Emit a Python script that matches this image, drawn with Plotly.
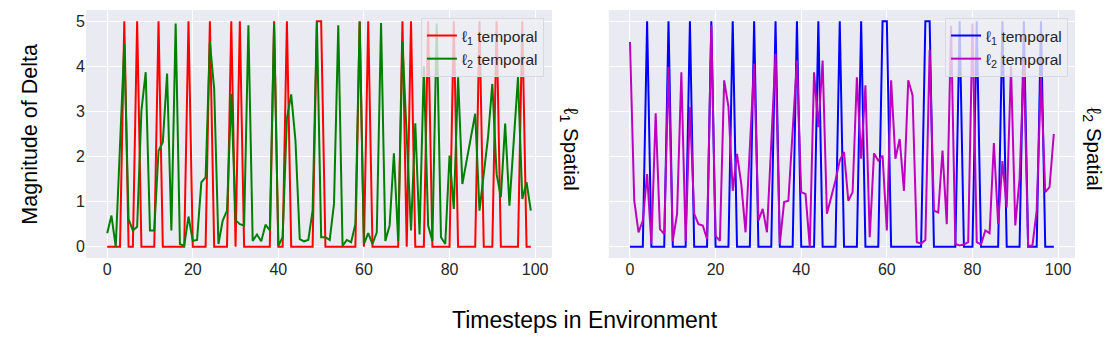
import plotly.graph_objects as go
from plotly.subplots import make_subplots

# =============================================================================
# data
# =============================================================================

steps = list(range(100))

# left panel: l1 spatial
l1s_l1t = [0, 0, 0, 0, 5, 0, 0, 5, 0, 0,
           0, 0, 5, 0, 0, 0, 0, 0, 0, 5,
           0, 0, 0, 0, 5, 0, 0, 0, 0, 5,
           0, 5, 0, 0, 0, 0, 0, 0, 0, 5,
           0, 0, 5, 0, 0, 0, 0, 0, 0, 5,
           5, 0, 0, 0, 0, 0, 0, 0, 0, 5,
           0, 5, 0, 0, 0, 0, 0, 0, 0, 5,
           0, 5, 0, 0, 0, 5, 0, 0, 0, 0,
           0, 5, 0, 0, 0, 0, 0, 5, 0, 0,
           0, 5, 0, 0, 0, 0, 0, 5, 0, 0]

l1s_l2t = [0.30, 0.69, 0.00, 2.25, 4.50, 0.61, 0.36, 0.44, 3.02, 3.87,
           0.36, 0.36, 2.13, 2.32, 3.84, 0.36, 4.95, 0.06, 0.02, 0.67,
           0.13, 0.15, 1.43, 1.54, 4.54, 3.50, 0.06, 0.58, 0.80, 3.39,
           0.59, 0.50, 0.47, 4.91, 0.13, 0.27, 0.12, 0.49, 0.36, 4.95,
           0.02, 0.21, 2.85, 3.38, 2.35, 0.17, 0.12, 0.15, 0.80, 4.99,
           0.21, 0.21, 0.15, 0.95, 4.91, 0.02, 0.15, 0.10, 0.50, 4.99,
           0.06, 0.30, 0.06, 0.32, 4.96, 0.13, 0.47, 2.07, 0.13, 4.54,
           2.50, 0.36, 2.74, 0.27, 4.00, 0.47, 0.13, 4.95, 0.21, 0.06,
           2.02, 0.84, 3.76, 1.39, 1.91, 2.43, 2.95, 0.80, 1.69, 2.43,
           3.61, 1.61, 1.10, 2.73, 0.91, 2.28, 3.76, 1.06, 1.43, 0.80]

# right panel: l2 spatial
l2s_l1t = [0, 0, 0, 0, 5, 0, 0, 0, 0, 5,
           0, 0, 0, 0, 5, 0, 0, 0, 0, 5,
           0, 0, 0, 0, 5, 0, 0, 0, 0, 5,
           0, 0, 0, 0, 5, 0, 0, 0, 0, 5,
           0, 0, 0, 0, 5, 0, 0, 0, 0, 5,
           0, 0, 0, 0, 5, 0, 0, 0, 0, 5,
           5, 0, 0, 0, 0, 0, 0, 0, 0, 5,
           5, 0, 0, 0, 0, 0, 0, 5, 0, 0,
           0, 5, 0, 0, 0, 0, 0, 5, 0, 0,
           0, 0, 5, 0, 0, 0, 5, 0, 0, 0]

l2s_l2t = [4.54, 1.02, 0.32, 0.58, 1.61, 0.06, 2.96, 0.39, 0.28, 3.99,
           0.13, 0.73, 3.87, 0.13, 3.10, 0.73, 0.50, 0.47, 0.17, 4.91,
           0.24, 0.13, 3.69, 3.10, 1.24, 2.06, 1.39, 0.32, 2.20, 4.06,
           0.58, 0.84, 0.32, 2.20, 4.28, 0.06, 0.99, 1.02, 2.60, 4.13,
           1.21, 1.17, 0.00, 3.87, 2.65, 4.13, 0.73, 1.10, 1.47, 1.91,
           2.10, 1.02, 1.21, 3.76, 1.95, 3.58, 0.21, 2.07, 1.91, 2.02,
           0.36, 3.69, 1.95, 2.39, 1.24, 3.69, 3.36, 0.10, 0.07, 0.15,
           4.36, 0.80, 0.76, 2.13, 0.50, 4.90, 0.06, 0.03, 0.05, 0.10,
           4.95, 0.10, 0.05, 0.36, 0.30, 2.30, 0.50, 1.90, 0.87, 4.00,
           0.47, 1.50, 4.10, 0.02, 0.02, 0.80, 3.76, 1.21, 1.32, 2.50]

y_ticks = [0, 1, 2, 3, 4, 5]
x_ticks = [0, 20, 40, 60, 80, 100]

# =============================================================================
# figure
# =============================================================================

fig = make_subplots(rows = 1, cols = 2, shared_yaxes = True, horizontal_spacing = 0.0574)

fig.add_trace(go.Scatter(x = steps, y = l1s_l1t, mode = 'lines', name = 'ℓ<sub>1</sub> temporal',
                         line = dict(color = '#ff0000', width = 2), legend = 'legend'), row = 1, col = 1)
fig.add_trace(go.Scatter(x = steps, y = l1s_l2t, mode = 'lines', name = 'ℓ<sub>2</sub> temporal',
                         line = dict(color = '#008000', width = 2), legend = 'legend'), row = 1, col = 1)
fig.add_trace(go.Scatter(x = steps, y = l2s_l1t, mode = 'lines', name = 'ℓ<sub>1</sub> temporal',
                         line = dict(color = '#0000ff', width = 2), legend = 'legend2'), row = 1, col = 2)
fig.add_trace(go.Scatter(x = steps, y = l2s_l2t, mode = 'lines', name = 'ℓ<sub>2</sub> temporal',
                         line = dict(color = '#bf00bf', width = 2), legend = 'legend2'), row = 1, col = 2)

axis_style = dict(showgrid = True, gridcolor = 'white', gridwidth = 1.3, zeroline = False,
                  showline = False, ticks = '', tickfont = dict(size = 16, color = '#262626'))

fig.update_xaxes(range = [-4.95, 103.95], tickvals = x_ticks, **axis_style)
fig.update_yaxes(range = [-0.25, 5.25], tickvals = y_ticks, **axis_style)
fig.update_xaxes(domain = [0, 0.4712], row = 1, col = 1)
fig.update_xaxes(domain = [0.5286, 1], row = 1, col = 2)
fig.update_yaxes(showticklabels = False, row = 1, col = 2)

legend_style = dict(bgcolor = 'rgba(238,238,244,0.8)', bordercolor = '#d8d8e0', borderwidth = 1,
                    font = dict(size = 15.5, color = '#262626'), xanchor = 'right', yanchor = 'top',
                    tracegroupgap = 0, itemwidth = 30)

# page body adds 8px, so the figure is a bit smaller than the window
fig.update_layout(
    width = 1108, height = 341,
    margin = dict(l = 78, r = 41, t = 2, b = 91),
    paper_bgcolor = 'white', plot_bgcolor = '#eaeaf2',
    font = dict(family = 'Liberation Sans, Arial, sans-serif', color = '#262626'),
    legend = dict(x = 0.463, y = 0.968, **legend_style),
    legend2 = dict(x = 0.993, y = 0.968, **legend_style),
)

# axis labels
fig.add_annotation(text = 'Magnitude of Delta', xref = 'paper', yref = 'paper', x = -0.057, y = 0.5,
                   xanchor = 'center', yanchor = 'middle',
                   textangle = -90, showarrow = False, font = dict(size = 21.5, color = 'black'))
fig.add_annotation(text = 'Timesteps in Environment', xref = 'paper', yref = 'paper', x = 0.505, y = -0.25,
                   xanchor = 'center', yanchor = 'middle',
                   showarrow = False, font = dict(size = 23, color = 'black'))
fig.add_annotation(text = 'ℓ<sub>1</sub> Spatial', xref = 'paper', yref = 'paper', x = 0.4895, y = 0.44,
                   xanchor = 'center', yanchor = 'middle',
                   textangle = 90, showarrow = False, font = dict(size = 20.5, color = 'black'))
fig.add_annotation(text = 'ℓ<sub>2</sub> Spatial', xref = 'paper', yref = 'paper', x = 1.0185, y = 0.44,
                   xanchor = 'center', yanchor = 'middle',
                   textangle = 90, showarrow = False, font = dict(size = 20.5, color = 'black'))

fig.write_html("out.html")
